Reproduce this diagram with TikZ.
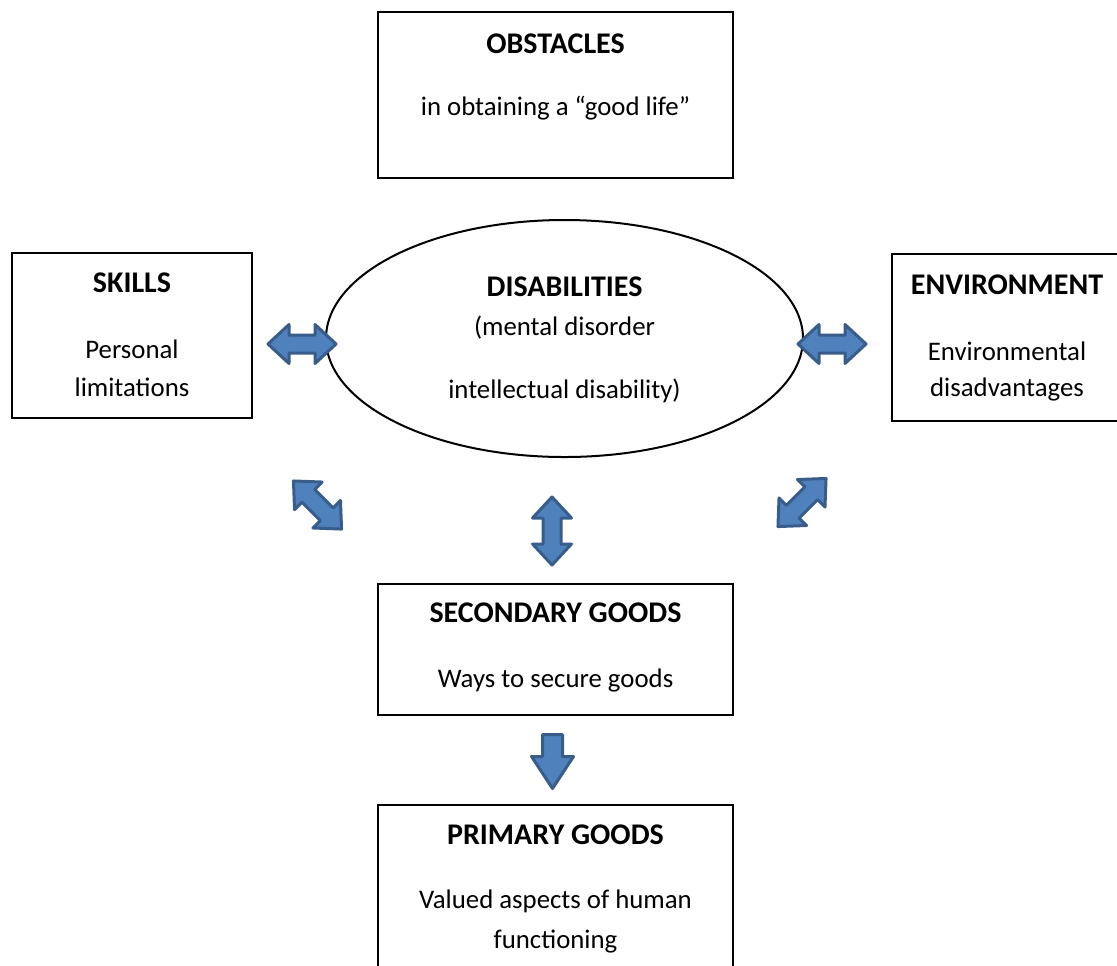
\documentclass[tikz,border=0pt]{standalone}
\usepackage{fontspec}
\setmainfont{Carlito}
\usetikzlibrary{shapes.geometric}

\definecolor{arrowfill}{HTML}{4F81BD}
\definecolor{arrowline}{HTML}{385D8A}

\tikzset{
    blockarrow/.style={fill=arrowfill, draw=arrowline, line width=1.5pt, line join=round},
    dblarrow/.pic={
        \draw[blockarrow] (-34,0) -- (-13,19.5) -- (-13,9) -- (13,9) -- (13,19.5) -- (34,0)
            -- (13,-19.5) -- (13,-9) -- (-13,-9) -- (-13,-19.5) -- cycle;
    },
    downarrow/.pic={
        \draw[blockarrow] (-10,-27) -- (10,-27) -- (10,-5) -- (21,-5) -- (0,27) -- (-21,-5) -- (-10,-5) -- cycle;
    }
}

\begin{document}
\begin{tikzpicture}[x=0.5pt, y=-0.5pt,
    box/.style={draw, line width=0.8pt, rectangle, inner sep=0pt},
    title/.style={anchor=base, font=\fontsize{15}{18}\selectfont\bfseries, inner sep=0pt},
    body/.style={anchor=base, font=\fontsize{13.4}{16}\selectfont, inner sep=0pt}]
    \clip (0,0) rectangle (1117,965);

    % Boxes
    \node[box, minimum width=177.5pt, minimum height=83pt] (obstacles) at (555.5,95) {};
    \node[box, minimum width=120pt, minimum height=82.5pt] (skills) at (132,335.5) {};
    \node[box, minimum width=124pt, minimum height=83.5pt] (environment) at (1016,337.5) {};
    \node[box, minimum width=177.5pt, minimum height=65.5pt] (secondary) at (555.5,649.5) {};
    \node[box, minimum width=177.5pt, minimum height=97.5pt] (primary) at (555.5,902.5) {};
    \node[draw, ellipse, line width=1pt, minimum width=238.5pt, minimum height=118.5pt] (disabilities) at (564.5,338.5) {};

    % Texts
    \node[title] (obstaclesT) at (555.5,53) {OBSTACLES};
    \node[body] (obstaclesB) at (555.5,115) {in obtaining a “good life”};

    \node[title] (skillsT) at (132,292) {SKILLS};
    \node[body] (skillsB1) at (132,358) {Personal};
    \node[body] (skillsB2) at (132,396) {limitations};

    \node[title] (disabilitiesT) at (564.5,296) {DISABILITIES};
    \node[body] (disabilitiesB1) at (564.5,335) {(mental disorder};
    \node[body] (disabilitiesB2) at (564.5,398) {intellectual disability)};

    \node[title] (environmentT) at (1007,294) {ENVIRONMENT};
    \node[body] (environmentB1) at (1007,360) {Environmental};
    \node[body] (environmentB2) at (1007,396) {disadvantages};

    \node[title] (secondaryT) at (555.5,622) {SECONDARY GOODS};
    \node[body] (secondaryB) at (555.5,687) {Ways to secure goods};

    \node[title] (primaryT) at (555.5,844) {PRIMARY GOODS};
    \node[body] (primaryB1) at (555.5,908) {Valued aspects of human};
    \node[body] (primaryB2) at (555.5,948) {functioning};

    % Block arrows
    \foreach \x/\y/\ang in {302/344/0, 832/344/0, 317.5/505/-45, 802/502.5/45, 552/531/90} {
        \pic[rotate=\ang] at (\x,\y) {dblarrow};
    }
    \pic at (552.5,761.5) {downarrow};

\end{tikzpicture}
\end{document}
